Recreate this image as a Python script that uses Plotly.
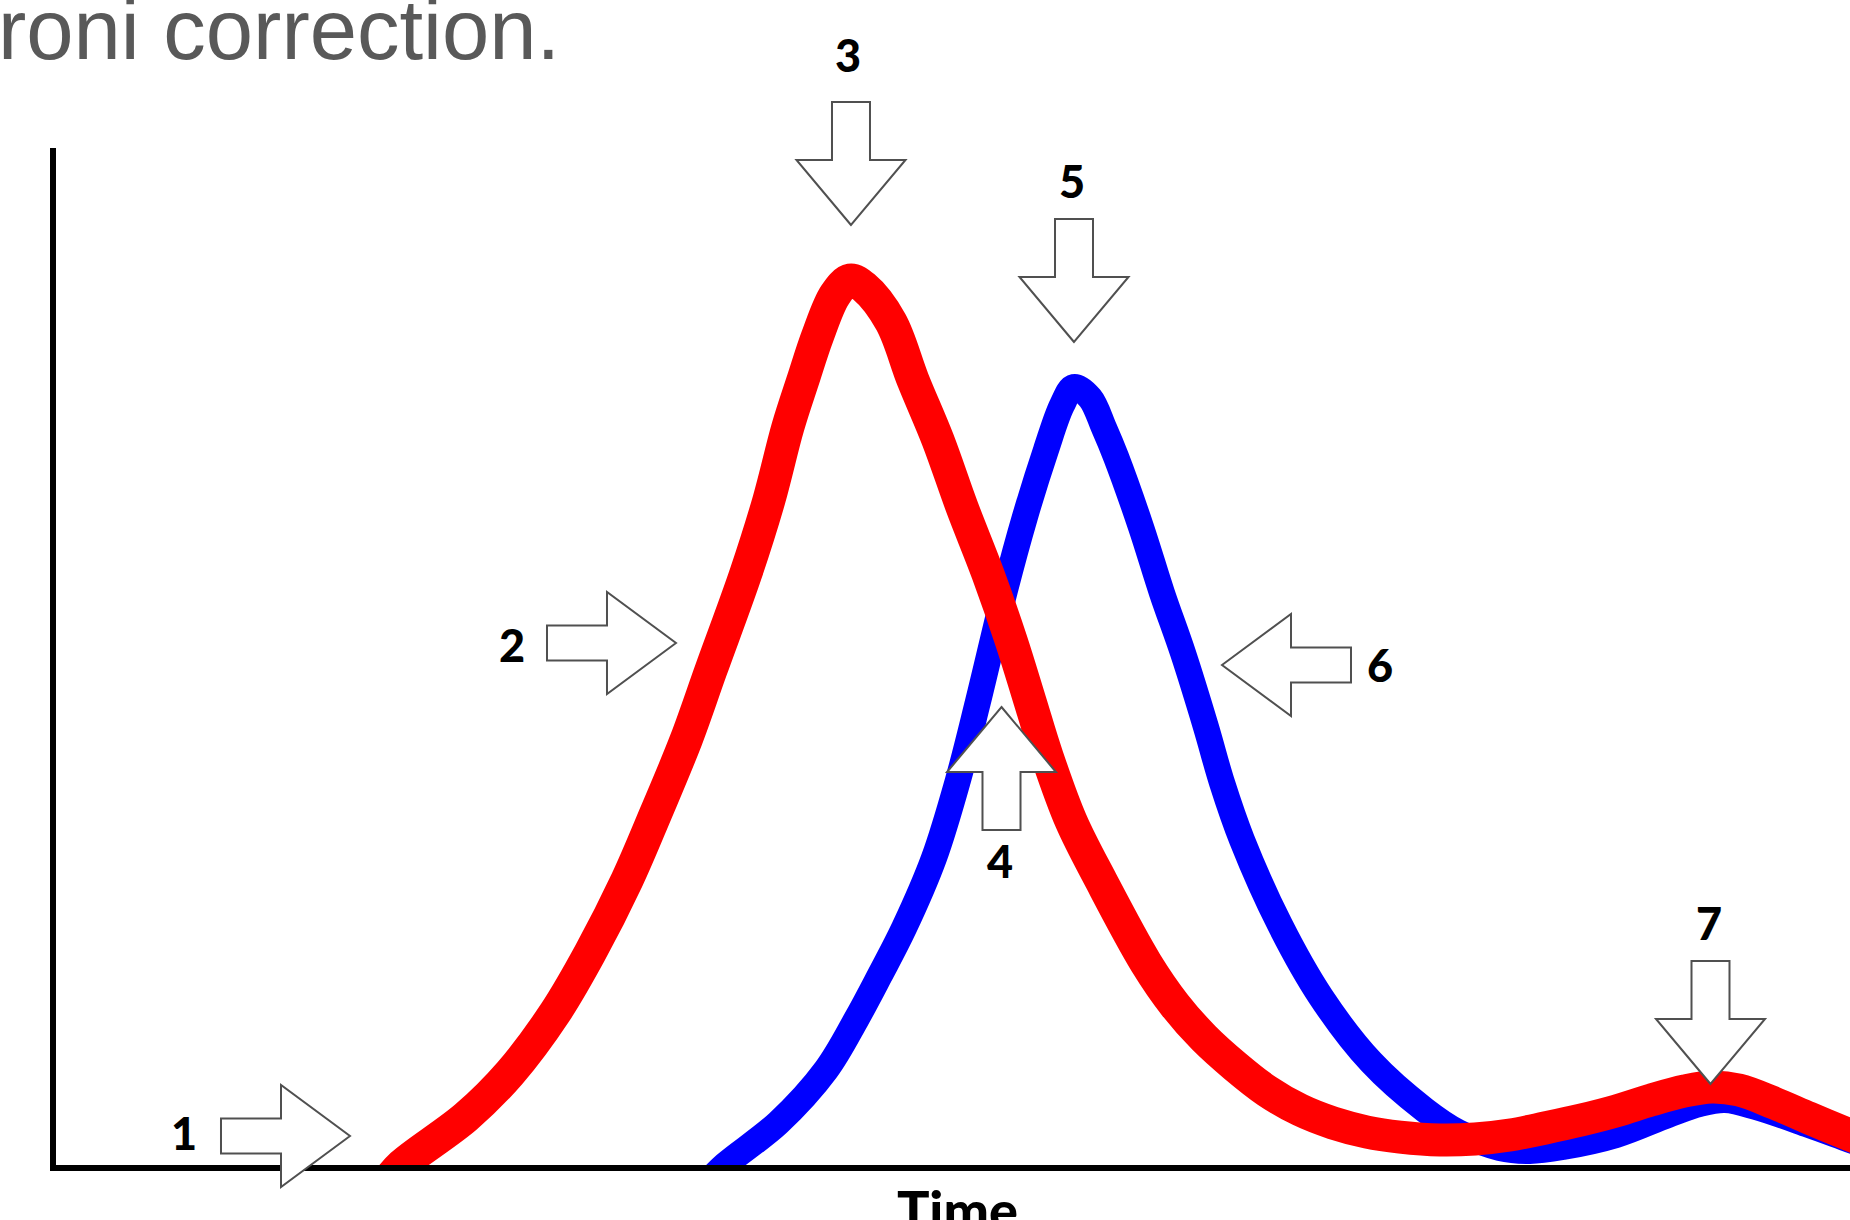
import plotly.graph_objects as go

# signal traces (time in arbitrary units, signal in % of axis height)
red_time = [18.45, 19.29, 22.85, 25.31, 27.81, 29.77, 31.83, 33.44, 35.12, 36.51,
            38.46, 39.74, 40.80, 41.64, 42.45, 43.42, 44.26, 45.04, 46.54, 47.77,
            49.16, 50.50, 51.95, 53.25, 54.29, 55.24, 56.58, 58.26, 60.76, 62.37,
            63.99, 65.72, 67.50, 69.34, 71.18, 73.08, 74.92, 77.15, 79.10, 81.05,
            83.00, 85.01, 86.96, 88.91, 90.80, 92.31, 93.81, 95.76, 97.71, 100.0,
            101.11]
red_signal = [-1.67, 0.0, 4.72, 9.05, 14.95, 20.85, 28.02, 34.61, 41.79, 48.67,
              58.21, 65.39, 72.57, 77.19, 81.50, 85.55, 87.02, 86.33, 82.89, 77.19,
              71.29, 64.70, 58.11, 51.52, 45.62, 40.22, 33.82, 27.93, 19.86, 15.73,
              12.49, 9.73, 7.28, 5.41, 4.13, 3.24, 2.75, 2.46, 2.56, 2.95,
              3.64, 4.42, 5.31, 6.39, 7.28, 7.67, 7.37, 6.10, 4.62, 2.95,
              2.16]

blue_time = [36.34, 37.29, 40.25, 42.92, 44.59, 45.93, 47.27, 48.94, 50.28, 51.39,
             52.90, 54.01, 55.18, 56.08, 56.74, 57.64, 58.42, 59.09, 60.48, 61.65,
             62.82, 64.10, 65.00, 66.11, 68.23, 70.51, 73.30, 76.30, 78.15, 80.49,
             82.16, 84.00, 86.96, 89.86, 91.64, 93.03, 94.76, 97.71, 100.0, 101.11]
blue_signal = [-1.67, 0.0, 4.13, 9.34, 14.26, 18.68, 23.30, 30.19, 37.86, 45.53,
               56.54, 63.72, 70.30, 74.73, 76.50, 75.42, 72.47, 69.62, 62.73, 56.24,
               50.34, 43.07, 37.56, 31.96, 23.60, 16.52, 10.13, 5.41, 3.24, 1.67,
               1.38, 1.77, 2.95, 4.92, 6.00, 6.39, 5.70, 3.93, 2.46, 1.77]

callout_labels = ["1", "2", "3", "4", "5", "6", "7"]

# ---- layout -------------------------------------------------------------
FIG_W, FIG_H = 1850, 1220
MARGIN = dict(l=56, r=0, t=148, b=55)
PLOT_W = FIG_W - MARGIN["l"] - MARGIN["r"]
PLOT_H = FIG_H - MARGIN["t"] - MARGIN["b"]

LABEL_FONT = dict(family="Lato, Open Sans, sans-serif", size=45, color="black", weight=900)
ARROW_LINE = dict(color="#505050", width=2)

# callout arrows: tip (px), pointing direction, label centre (px)
CALLOUTS = [
    ((350, 1136), "right", (184, 1133)),
    ((676, 643), "right", (512, 645)),
    ((851, 225), "down", (848, 55)),
    ((1001.5, 707), "up", (1000, 861)),
    ((1074, 342), "down", (1072, 181)),
    ((1222, 665), "left", (1380, 665)),
    ((1710.5, 1084), "down", (1709, 923)),
]
DIRS = {"right": (1, 0), "left": (-1, 0), "down": (0, 1), "up": (0, -1)}


def to_paper(x, y):
    return (x - MARGIN["l"]) / PLOT_W, (FIG_H - MARGIN["b"] - y) / PLOT_H


def block_arrow(tip, direction):
    dx, dy = DIRS[direction]
    if dx:  # horizontal arrows are drawn a bit narrower
        head_len, head_w, shaft_len, shaft_w = 69, 102, 60, 35
    else:
        head_len, head_w, shaft_len, shaft_w = 65, 109, 58, 38
    nx, ny = -dy, dx
    local = [(0, 0), (-head_len, head_w / 2), (-head_len, shaft_w / 2),
             (-head_len - shaft_len, shaft_w / 2), (-head_len - shaft_len, -shaft_w / 2),
             (-head_len, -shaft_w / 2), (-head_len, -head_w / 2)]
    pts = []
    for u, v in local:
        px = tip[0] + u * dx + v * nx
        py = tip[1] + u * dy + v * ny
        pts.append("%.5f,%.5f" % to_paper(px, py))
    return "M" + " L".join(pts) + " Z"


fig = go.Figure()
fig.add_trace(go.Scatter(x=blue_time, y=blue_signal, mode="lines",
                         line=dict(color="#0000ff", width=26, shape="spline", smoothing=1.0),
                         hoverinfo="skip"))
fig.add_trace(go.Scatter(x=red_time, y=red_signal, mode="lines",
                         line=dict(color="#ff0000", width=33, shape="spline", smoothing=1.0),
                         hoverinfo="skip"))

shapes = []
annotations = []
for label, (tip, direction, text_pos) in zip(callout_labels, CALLOUTS):
    shapes.append(dict(type="path", path=block_arrow(tip, direction), xref="paper", yref="paper",
                       fillcolor="white", line=ARROW_LINE, layer="above"))
    tx, ty = to_paper(*text_pos)
    annotations.append(dict(text=label, x=tx, y=ty, xref="paper", yref="paper",
                            xanchor="center", yanchor="middle", showarrow=False,
                            font=LABEL_FONT, borderpad=0, borderwidth=0))

tx, ty = to_paper(958, 1209)
annotations.append(dict(text="Time", x=tx, y=ty, xref="paper", yref="paper",
                        xanchor="center", yanchor="middle", showarrow=False,
                        font=dict(family="Lato, Open Sans, sans-serif", size=54,
                                  color="black", weight=900),
                        borderpad=0, borderwidth=0))

# fragment of the slide text above the chart
tx, ty = to_paper(-2, 29.5)
annotations.append(dict(text="roni correction.", x=tx, y=ty, xref="paper", yref="paper",
                        xanchor="left", yanchor="middle", showarrow=False,
                        font=dict(family="Liberation Sans, Arial, sans-serif", size=85,
                                  color="#595959"),
                        borderpad=0, borderwidth=0))

axis_common = dict(range=[0, 100], showline=True, linewidth=6, linecolor="black",
                   showgrid=False, zeroline=False, showticklabels=False, ticks="",
                   fixedrange=True)

fig.update_layout(
    width=FIG_W,
    height=FIG_H,
    margin=dict(**MARGIN, pad=0, autoexpand=False),
    paper_bgcolor="white",
    plot_bgcolor="white",
    showlegend=False,
    hovermode=False,
    xaxis=axis_common,
    yaxis=axis_common,
    shapes=shapes,
    annotations=annotations,
)

# drop the default page margin so the figure sits at the window's top-left corner
fig.write_html("out.html", config={"displayModeBar": False},
               post_script="document.body.style.margin='0';")
